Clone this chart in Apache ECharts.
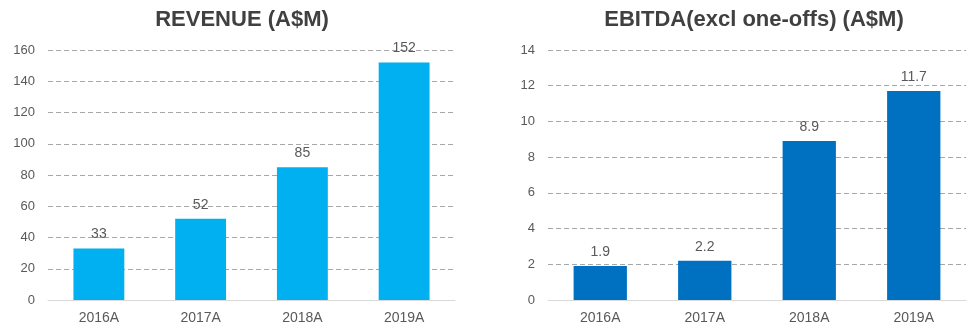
<!DOCTYPE html>
<html><head><meta charset="utf-8">
<script src="https://cdn.jsdelivr.net/npm/echarts@6/dist/echarts.min.js"></script>
<style>html,body{margin:0;padding:0;background:#fff}#c{width:970px;height:334px}</style>
</head><body><div id="c"></div>
<script>
const categories = ['2016A','2017A','2018A','2019A'];
const revenue = [33, 52, 85, 152];
const ebitda = [1.9, 2.2, 8.9, 11.7];
const revenueTitle = 'REVENUE (A$M)';
const ebitdaTitle = 'EBITDA(excl one-offs) (A$M)';

const chart = echarts.init(document.getElementById('c'));
const font = 'Liberation Sans, Arial, sans-serif';
const lblColor = '#595959';
function xAxis(gi){return {type:'category',gridIndex:gi,data:categories,
  axisLine:{lineStyle:{color:'#d9d9d9',width:1}},axisTick:{show:false},
  axisLabel:{color:lblColor,fontSize:14,fontFamily:font,margin:11}};}
function yAxis(gi,max,interval){return {type:'value',gridIndex:gi,min:0,max:max,interval:interval,
  axisLine:{show:false},axisTick:{show:false},
  axisLabel:{color:lblColor,fontSize:13,fontFamily:font,margin:13},
  splitLine:{lineStyle:{color:'#a6a6a6',type:[5,3],width:1}}};}
chart.setOption({
  animation:false,
  title:[
    {text:revenueTitle,left:237,top:4,textAlign:'center',textStyle:{fontSize:22,fontWeight:'bold',color:'#404040',fontFamily:font}},
    {text:ebitdaTitle,left:749,top:4,textAlign:'center',textStyle:{fontSize:22,fontWeight:'bold',color:'#404040',fontFamily:font}}
  ],
  grid:[
    {left:48,top:50,width:407,height:250},
    {left:548,top:50,width:418,height:250}
  ],
  xAxis:[xAxis(0),xAxis(1)],
  yAxis:[yAxis(0,160,20),yAxis(1,14,2)],
  series:[
    {type:'bar',xAxisIndex:0,yAxisIndex:0,data:revenue,barWidth:'50%',
     itemStyle:{color:'#00B0F0'},
     label:{show:true,position:'top',distance:7,color:lblColor,fontSize:14,fontFamily:font}},
    {type:'bar',xAxisIndex:1,yAxisIndex:1,data:ebitda,barWidth:'51%',
     itemStyle:{color:'#0070C0'},
     label:{show:true,position:'top',distance:7,color:lblColor,fontSize:14,fontFamily:font}}
  ]
});
</script></body></html>
